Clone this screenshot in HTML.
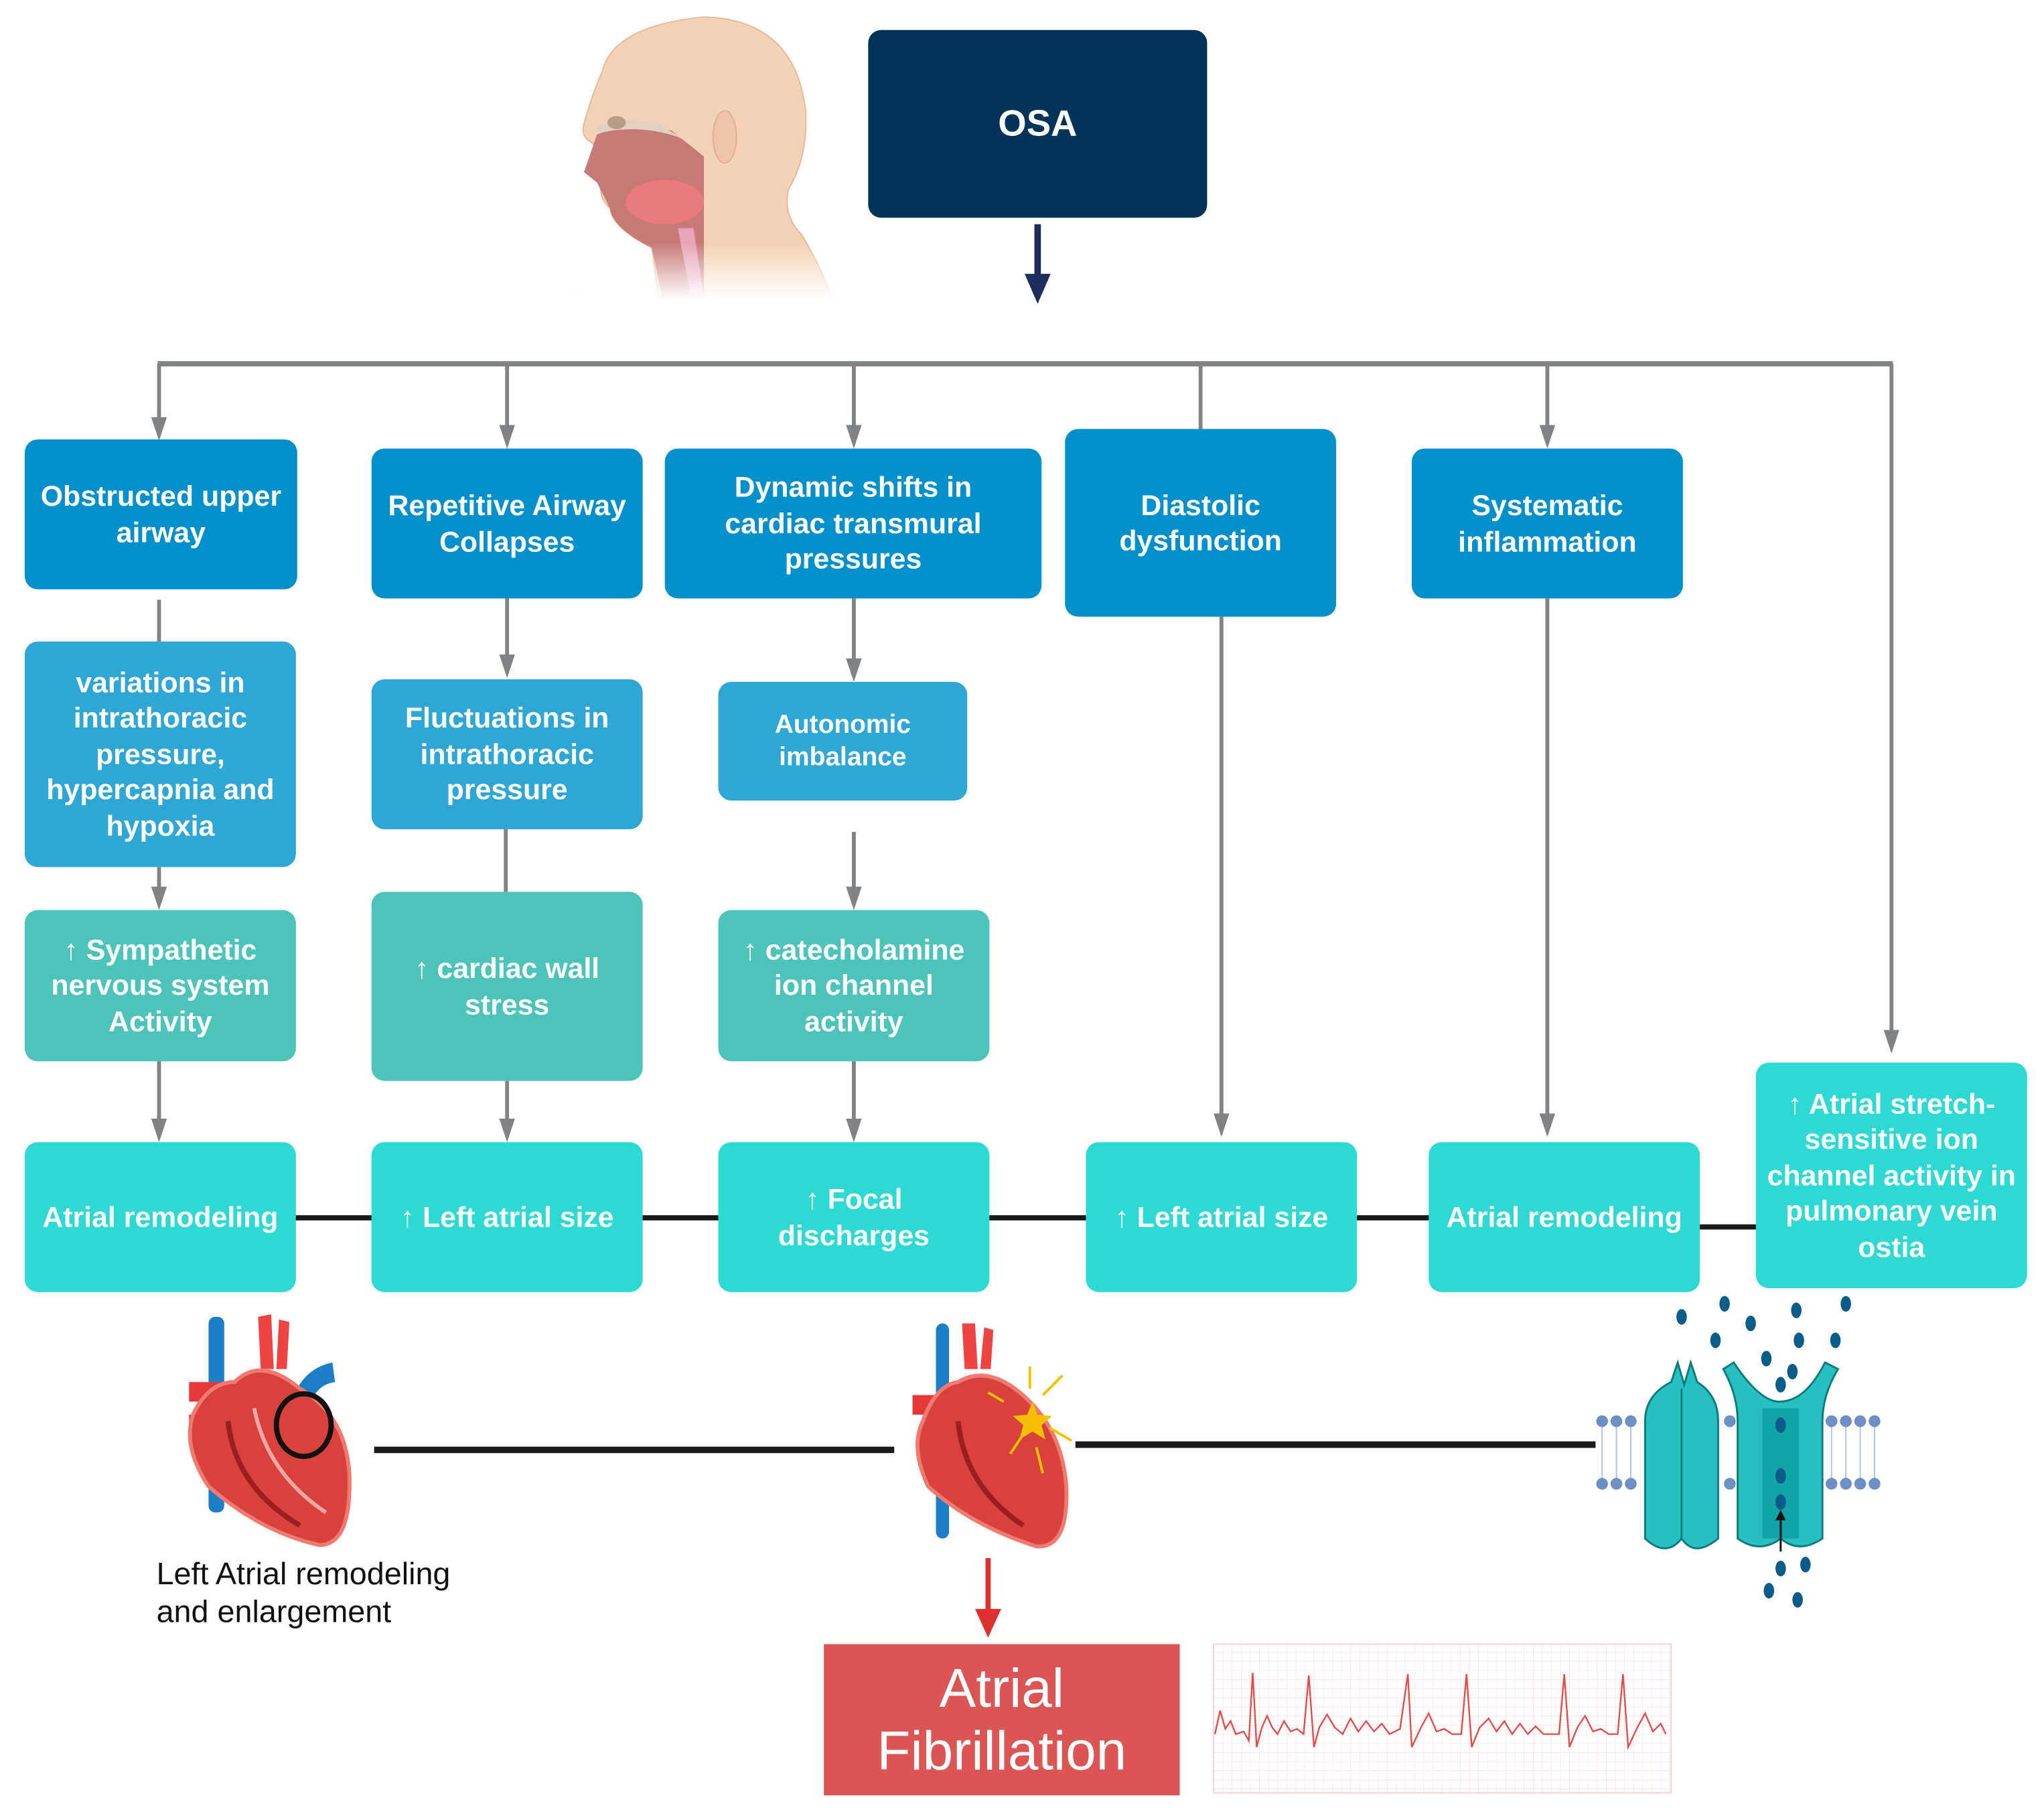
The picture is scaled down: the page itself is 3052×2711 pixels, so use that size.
<!DOCTYPE html>
<html><head><meta charset="utf-8">
<style>
html,body{margin:0;padding:0;background:#fff;}
body{width:3052px;height:2711px;overflow:hidden;position:relative;}
#w{position:absolute;left:0;top:0;width:1568px;height:1393px;transform:scale(1.94643);transform-origin:0 0;}
.b{position:absolute;box-sizing:border-box;border-radius:10px;color:#fff;font-family:"Liberation Sans Narrow","Liberation Sans",sans-serif;font-weight:bold;font-size:22px;line-height:27.5px;display:flex;align-items:center;justify-content:center;text-align:center;padding:0 6px;}
.r1{background:#0290cd;}
.r2{background:#2ea7d4;}
.r3{background:#4dc4b9;}
.r4{background:#2ddad3;}
svg{position:absolute;left:0;top:0;}
</style></head><body><div id="w">
<svg width="1568" height="1393" viewBox="0 0 1568 1393">
<defs>
<linearGradient id="fade" x1="0" y1="0" x2="0" y2="1"><stop offset="0.8" stop-color="#fff" stop-opacity="0"/><stop offset="1" stop-color="#fff" stop-opacity="1"/></linearGradient>
<pattern id="grid" width="7" height="7" patternUnits="userSpaceOnUse"><path d="M7,0 L0,0 0,7" fill="none" stroke="#fbd9d9" stroke-width="0.6"/></pattern>
</defs>
<!-- head -->
<g>
<path d="M505,228 L500,190 Q470,175 468,160 Q458,150 462,140 L455,110 Q445,105 448,95 Q455,70 462,55 Q470,20 540,13 Q610,15 618,85 Q620,120 605,145 Q600,165 615,180 Q630,205 638,228z" fill="#f4d2b5" stroke="#e8b898" stroke-width="1"/>
<path d="M448,132 L458,103 Q480,95 515,100 L540,120 L540,228 L508,228 L500,190 Q470,175 468,160 L458,140z" fill="#c77a78"/>
<ellipse cx="510" cy="155" rx="30" ry="17" fill="#ea7a7c"/>
<path d="M520,175 L530,228 L540,228 L532,175z" fill="#e8a4b8"/>
<path d="M455,100 Q470,88 505,95 L530,110 L520,105 Q490,95 460,102z" fill="#e0d2c0"/>
<ellipse cx="473" cy="94" rx="7" ry="5" fill="#b99c86"/>
<ellipse cx="556" cy="105" rx="9" ry="20" fill="#efc3a5" stroke="#e0ad90"/>
<rect x="440" y="10" width="205" height="220" fill="url(#fade)"/>
</g>
<!-- OSA arrow -->
<line x1="796" y1="172" x2="796" y2="214" stroke="#1f2d5c" stroke-width="5"/>
<path d="M786,210 L806,210 L796,233z" fill="#1f2d5c"/>
<!-- gray tree -->
<g stroke="#7f8385" stroke-width="3" fill="none">
<line x1="121" y1="279" x2="1452" y2="279" stroke-width="4"/>
<line x1="122" y1="279" x2="122" y2="322"/>
<line x1="389" y1="279" x2="389" y2="328"/>
<line x1="655" y1="279" x2="655" y2="328"/>
<line x1="921" y1="279" x2="921" y2="330"/>
<line x1="1187" y1="279" x2="1187" y2="328"/>
<line x1="1451" y1="279" x2="1451" y2="792"/>
<line x1="122" y1="460" x2="122" y2="492"/>
<line x1="389" y1="459" x2="389" y2="504"/>
<line x1="655" y1="459" x2="655" y2="507"/>
<line x1="122" y1="665" x2="122" y2="682"/>
<line x1="388" y1="636" x2="388" y2="684"/>
<line x1="655" y1="638" x2="655" y2="682"/>
<line x1="122" y1="814" x2="122" y2="860"/>
<line x1="389" y1="829" x2="389" y2="860"/>
<line x1="655" y1="814" x2="655" y2="860"/>
<line x1="937" y1="473" x2="937" y2="856"/>
<line x1="1187" y1="459" x2="1187" y2="856"/>
</g>
<g fill="#7f8385">
<path d="M116,320 h12 l-6,18z"/>
<path d="M383,326 h12 l-6,18z"/>
<path d="M649,326 h12 l-6,18z"/>
<path d="M1181,326 h12 l-6,18z"/>
<path d="M1445,790 h12 l-6,18z"/>
<path d="M383,502 h12 l-6,18z"/>
<path d="M649,505 h12 l-6,18z"/>
<path d="M116,680 h12 l-6,18z"/>
<path d="M649,680 h12 l-6,18z"/>
<path d="M116,858 h12 l-6,18z"/>
<path d="M383,858 h12 l-6,18z"/>
<path d="M649,858 h12 l-6,18z"/>
<path d="M931,854 h12 l-6,18z"/>
<path d="M1181,854 h12 l-6,18z"/>
</g>
<!-- black connectors -->
<g stroke="#1a1a1a" stroke-width="4">
<line x1="226" y1="934" x2="286" y2="934"/>
<line x1="492" y1="934" x2="552" y2="934"/>
<line x1="758" y1="934" x2="834" y2="934"/>
<line x1="1040" y1="934" x2="1097" y2="934"/>
<line x1="1303" y1="941" x2="1348" y2="941"/>
<line x1="287" y1="1112" x2="686" y2="1112" stroke-width="5"/>
<line x1="825" y1="1108" x2="1224" y2="1108" stroke-width="5"/>
</g>
<!-- heart 1 -->
<g>
<rect x="160" y="1010" width="12" height="150" rx="5" fill="#1a7ec8"/>
<path d="M200,1050 L198,1010 L208,1008 L210,1050z M212,1050 L214,1012 L222,1014 L220,1050z" fill="#ee4444"/>
<path d="M222,1080 Q230,1050 255,1045 L257,1060 Q240,1062 236,1085z" fill="#1a7ec8"/>
<path d="M145,1060 L170,1060 L170,1075 L145,1075z M145,1085 L165,1085 L165,1095 L145,1095z" fill="#e53838"/>
<path d="M180,1060 Q200,1040 230,1065 Q265,1085 268,1130 Q270,1185 245,1185 Q200,1175 160,1140 Q140,1110 148,1085 Q160,1060 180,1060z" fill="#d9413c" stroke="#f07a70" stroke-width="3"/>
<path d="M175,1090 Q180,1140 230,1170" stroke="#9c1f1f" stroke-width="4" fill="none"/>
<path d="M195,1080 Q205,1130 250,1160" stroke="#f3a8a0" stroke-width="3" fill="none"/>
<ellipse cx="233" cy="1093" rx="21" ry="24" fill="none" stroke="#111" stroke-width="4"/>
</g>
<!-- heart 2 -->
<g>
<rect x="718" y="1015" width="10" height="165" rx="5" fill="#1a7ec8"/>
<path d="M740,1050 L738,1015 L748,1015 L750,1050z M752,1050 L755,1018 L762,1020 L760,1050z" fill="#ee4444"/>
<path d="M700,1070 L722,1070 L722,1085 L700,1085z" fill="#e53838"/>
<path d="M735,1060 Q760,1045 790,1075 Q815,1100 818,1140 Q820,1188 795,1186 Q745,1170 712,1140 Q698,1110 708,1090 Q718,1062 735,1060z" fill="#d9413c" stroke="#f07a70" stroke-width="3"/>
<path d="M735,1090 Q740,1140 785,1170" stroke="#9c1f1f" stroke-width="4" fill="none"/>
<path d="M792,1075 l4,10 11,1 -8,7 3,11 -10,-6 -10,6 3,-11 -8,-7 11,-1z" fill="#f5c000"/>
<g stroke="#f5c000" stroke-width="2" fill="#f5c000">
<line x1="790" y1="1065" x2="790" y2="1048"/><line x1="800" y1="1070" x2="815" y2="1055"/>
<line x1="805" y1="1095" x2="822" y2="1105"/><line x1="795" y1="1110" x2="800" y2="1130"/>
<line x1="785" y1="1100" x2="775" y2="1115"/><line x1="770" y1="1075" x2="758" y2="1068"/>
</g>
</g>
<!-- red arrow -->
<line x1="758" y1="1195" x2="758" y2="1238" stroke="#e03131" stroke-width="4"/>
<path d="M748,1234 L768,1234 L758,1256z" fill="#e03131"/>
<!-- ion channel -->
<g>
<g stroke="#a9c6ea" stroke-width="1">
<line x1="1229" y1="1094" x2="1229" y2="1134"/><line x1="1240" y1="1094" x2="1240" y2="1134"/><line x1="1251" y1="1094" x2="1251" y2="1134"/>
<line x1="1405" y1="1094" x2="1405" y2="1134"/><line x1="1416" y1="1094" x2="1416" y2="1134"/><line x1="1427" y1="1094" x2="1427" y2="1134"/><line x1="1438" y1="1094" x2="1438" y2="1134"/>
</g>
<g fill="#6d8fc5">
<circle cx="1229" cy="1090" r="4.5"/><circle cx="1240" cy="1090" r="4.5"/><circle cx="1251" cy="1090" r="4.5"/><circle cx="1229" cy="1138" r="4.5"/><circle cx="1240" cy="1138" r="4.5"/><circle cx="1251" cy="1138" r="4.5"/>
<circle cx="1405" cy="1090" r="4.5"/><circle cx="1416" cy="1090" r="4.5"/><circle cx="1427" cy="1090" r="4.5"/><circle cx="1438" cy="1090" r="4.5"/><circle cx="1405" cy="1138" r="4.5"/><circle cx="1416" cy="1138" r="4.5"/><circle cx="1427" cy="1138" r="4.5"/><circle cx="1438" cy="1138" r="4.5"/>
<circle cx="1327" cy="1090" r="4.5"/><circle cx="1327" cy="1138" r="4.5"/>
</g>
<path d="M1262,1180 L1262,1090 Q1262,1070 1282,1060 L1287,1045 L1292,1062 L1297,1045 L1302,1060 Q1318,1070 1318,1090 L1318,1180 Q1300,1195 1290,1180 Q1278,1195 1262,1180z" fill="#27c0c0" stroke="#0c7b7f" stroke-width="1.5"/>
<line x1="1290" y1="1065" x2="1290" y2="1180" stroke="#0c7b7f" stroke-width="1.5"/>
<path d="M1333,1180 L1333,1090 Q1333,1070 1322,1050 L1330,1045 Q1350,1075 1365,1075 Q1385,1075 1400,1045 L1410,1050 Q1398,1070 1398,1090 L1398,1180 Q1380,1192 1366,1180 Q1350,1192 1333,1180z" fill="#27c0c0" stroke="#0c7b7f" stroke-width="1.5"/>
<rect x="1352" y="1080" width="28" height="100" fill="#11a5a8"/>
<g fill="#0b5c8a">
<ellipse cx="1290" cy="1010" rx="4" ry="6"/><ellipse cx="1323" cy="1000" rx="4" ry="6"/><ellipse cx="1343" cy="1015" rx="4" ry="6"/><ellipse cx="1378" cy="1005" rx="4" ry="6"/><ellipse cx="1416" cy="1000" rx="4" ry="6"/><ellipse cx="1316" cy="1028" rx="4" ry="6"/><ellipse cx="1380" cy="1028" rx="4" ry="6"/><ellipse cx="1408" cy="1028" rx="4" ry="6"/><ellipse cx="1355" cy="1042" rx="4" ry="6"/><ellipse cx="1375" cy="1052" rx="4" ry="6"/><ellipse cx="1366" cy="1062" rx="4" ry="6"/>
<ellipse cx="1366" cy="1093" rx="4" ry="6"/><ellipse cx="1366" cy="1132" rx="4" ry="6"/><ellipse cx="1366" cy="1152" rx="4" ry="6"/>
<ellipse cx="1366" cy="1203" rx="4" ry="6"/><ellipse cx="1385" cy="1200" rx="4" ry="6"/><ellipse cx="1357" cy="1220" rx="4" ry="6"/><ellipse cx="1379" cy="1227" rx="4" ry="6"/>
</g>
<line x1="1366" y1="1190" x2="1366" y2="1162" stroke="#111" stroke-width="1.5"/>
<path d="M1362,1166 L1370,1166 L1366,1158z" fill="#111"/>
</g>
<!-- ECG -->
<rect x="931" y="1261" width="351" height="114" fill="url(#grid)" stroke="#fbd0d0"/>
<polyline fill="none" stroke="#e84848" stroke-width="1.2" points="932,1330 936,1312 940,1326 944,1320 948,1330 954,1328 958,1335 961,1283 964,1340 968,1325 972,1316 976,1325 980,1330 985,1320 990,1328 995,1326 1000,1330 1004,1285 1008,1340 1012,1325 1018,1315 1024,1325 1030,1330 1036,1318 1042,1328 1048,1320 1054,1328 1060,1322 1066,1330 1074,1326 1080,1284 1083,1340 1090,1325 1096,1314 1102,1328 1108,1326 1114,1330 1121,1330 1125,1284 1129,1340 1135,1325 1142,1318 1148,1328 1154,1320 1160,1330 1166,1322 1172,1330 1178,1324 1184,1330 1190,1330 1196,1330 1200,1284 1204,1340 1210,1325 1216,1316 1222,1328 1228,1326 1234,1330 1241,1330 1245,1284 1249,1340 1256,1325 1262,1314 1268,1328 1274,1322 1278,1330"/>
</svg>

<div class="b" style="left:666px;top:23px;width:260px;height:144px;background:#02345a;font-family:'Liberation Sans',sans-serif;font-size:28px;">OSA</div>

<div class="b r1" style="left:19px;top:337px;width:209px;height:115px;">Obstructed upper airway</div>
<div class="b r1" style="left:285px;top:344px;width:208px;height:115px;">Repetitive Airway Collapses</div>
<div class="b r1" style="left:510px;top:344px;width:289px;height:115px;padding:0 30px;">Dynamic shifts in cardiac transmural pressures</div>
<div class="b r1" style="left:817px;top:329px;width:208px;height:144px;padding:0 30px;">Diastolic dysfunction</div>
<div class="b r1" style="left:1083px;top:344px;width:208px;height:115px;padding:0 25px;">Systematic inflammation</div>

<div class="b r2" style="left:19px;top:492px;width:208px;height:173px;">variations in intrathoracic pressure, hypercapnia and hypoxia</div>
<div class="b r2" style="left:285px;top:521px;width:208px;height:115px;padding:0 18px;">Fluctuations in intrathoracic pressure</div>
<div class="b r2" style="left:551px;top:523px;width:191px;height:91px;font-size:20px;line-height:25px;padding:0 40px;">Autonomic imbalance</div>

<div class="b r3" style="left:19px;top:698px;width:208px;height:116px;">↑ Sympathetic nervous system Activity</div>
<div class="b r3" style="left:285px;top:684px;width:208px;height:145px;padding:0 20px;">↑ cardiac wall stress</div>
<div class="b r3" style="left:551px;top:698px;width:208px;height:116px;">↑ catecholamine ion channel activity</div>

<div class="b r4" style="left:19px;top:876px;width:208px;height:115px;">Atrial remodeling</div>
<div class="b r4" style="left:285px;top:876px;width:208px;height:115px;">↑ Left atrial size</div>
<div class="b r4" style="left:551px;top:876px;width:208px;height:115px;padding:0 40px;">↑ Focal discharges</div>
<div class="b r4" style="left:833px;top:876px;width:208px;height:115px;">↑ Left atrial size</div>
<div class="b r4" style="left:1096px;top:876px;width:208px;height:115px;">Atrial remodeling</div>
<div class="b r4" style="left:1347px;top:815px;width:208px;height:173px;">↑ Atrial stretch-sensitive ion channel activity in pulmonary vein ostia</div>

<div style="position:absolute;left:120px;top:1193px;font-family:'Liberation Sans Narrow','Liberation Sans',sans-serif;font-size:24px;line-height:29px;color:#111;">Left Atrial remodeling<br>and enlargement</div>

<div class="b" style="left:632px;top:1261px;width:273px;height:116px;border-radius:0;background:#dc5555;font-weight:normal;font-size:42px;line-height:48px;font-family:'Liberation Sans',sans-serif;">Atrial<br>Fibrillation</div>
</div></body></html>
